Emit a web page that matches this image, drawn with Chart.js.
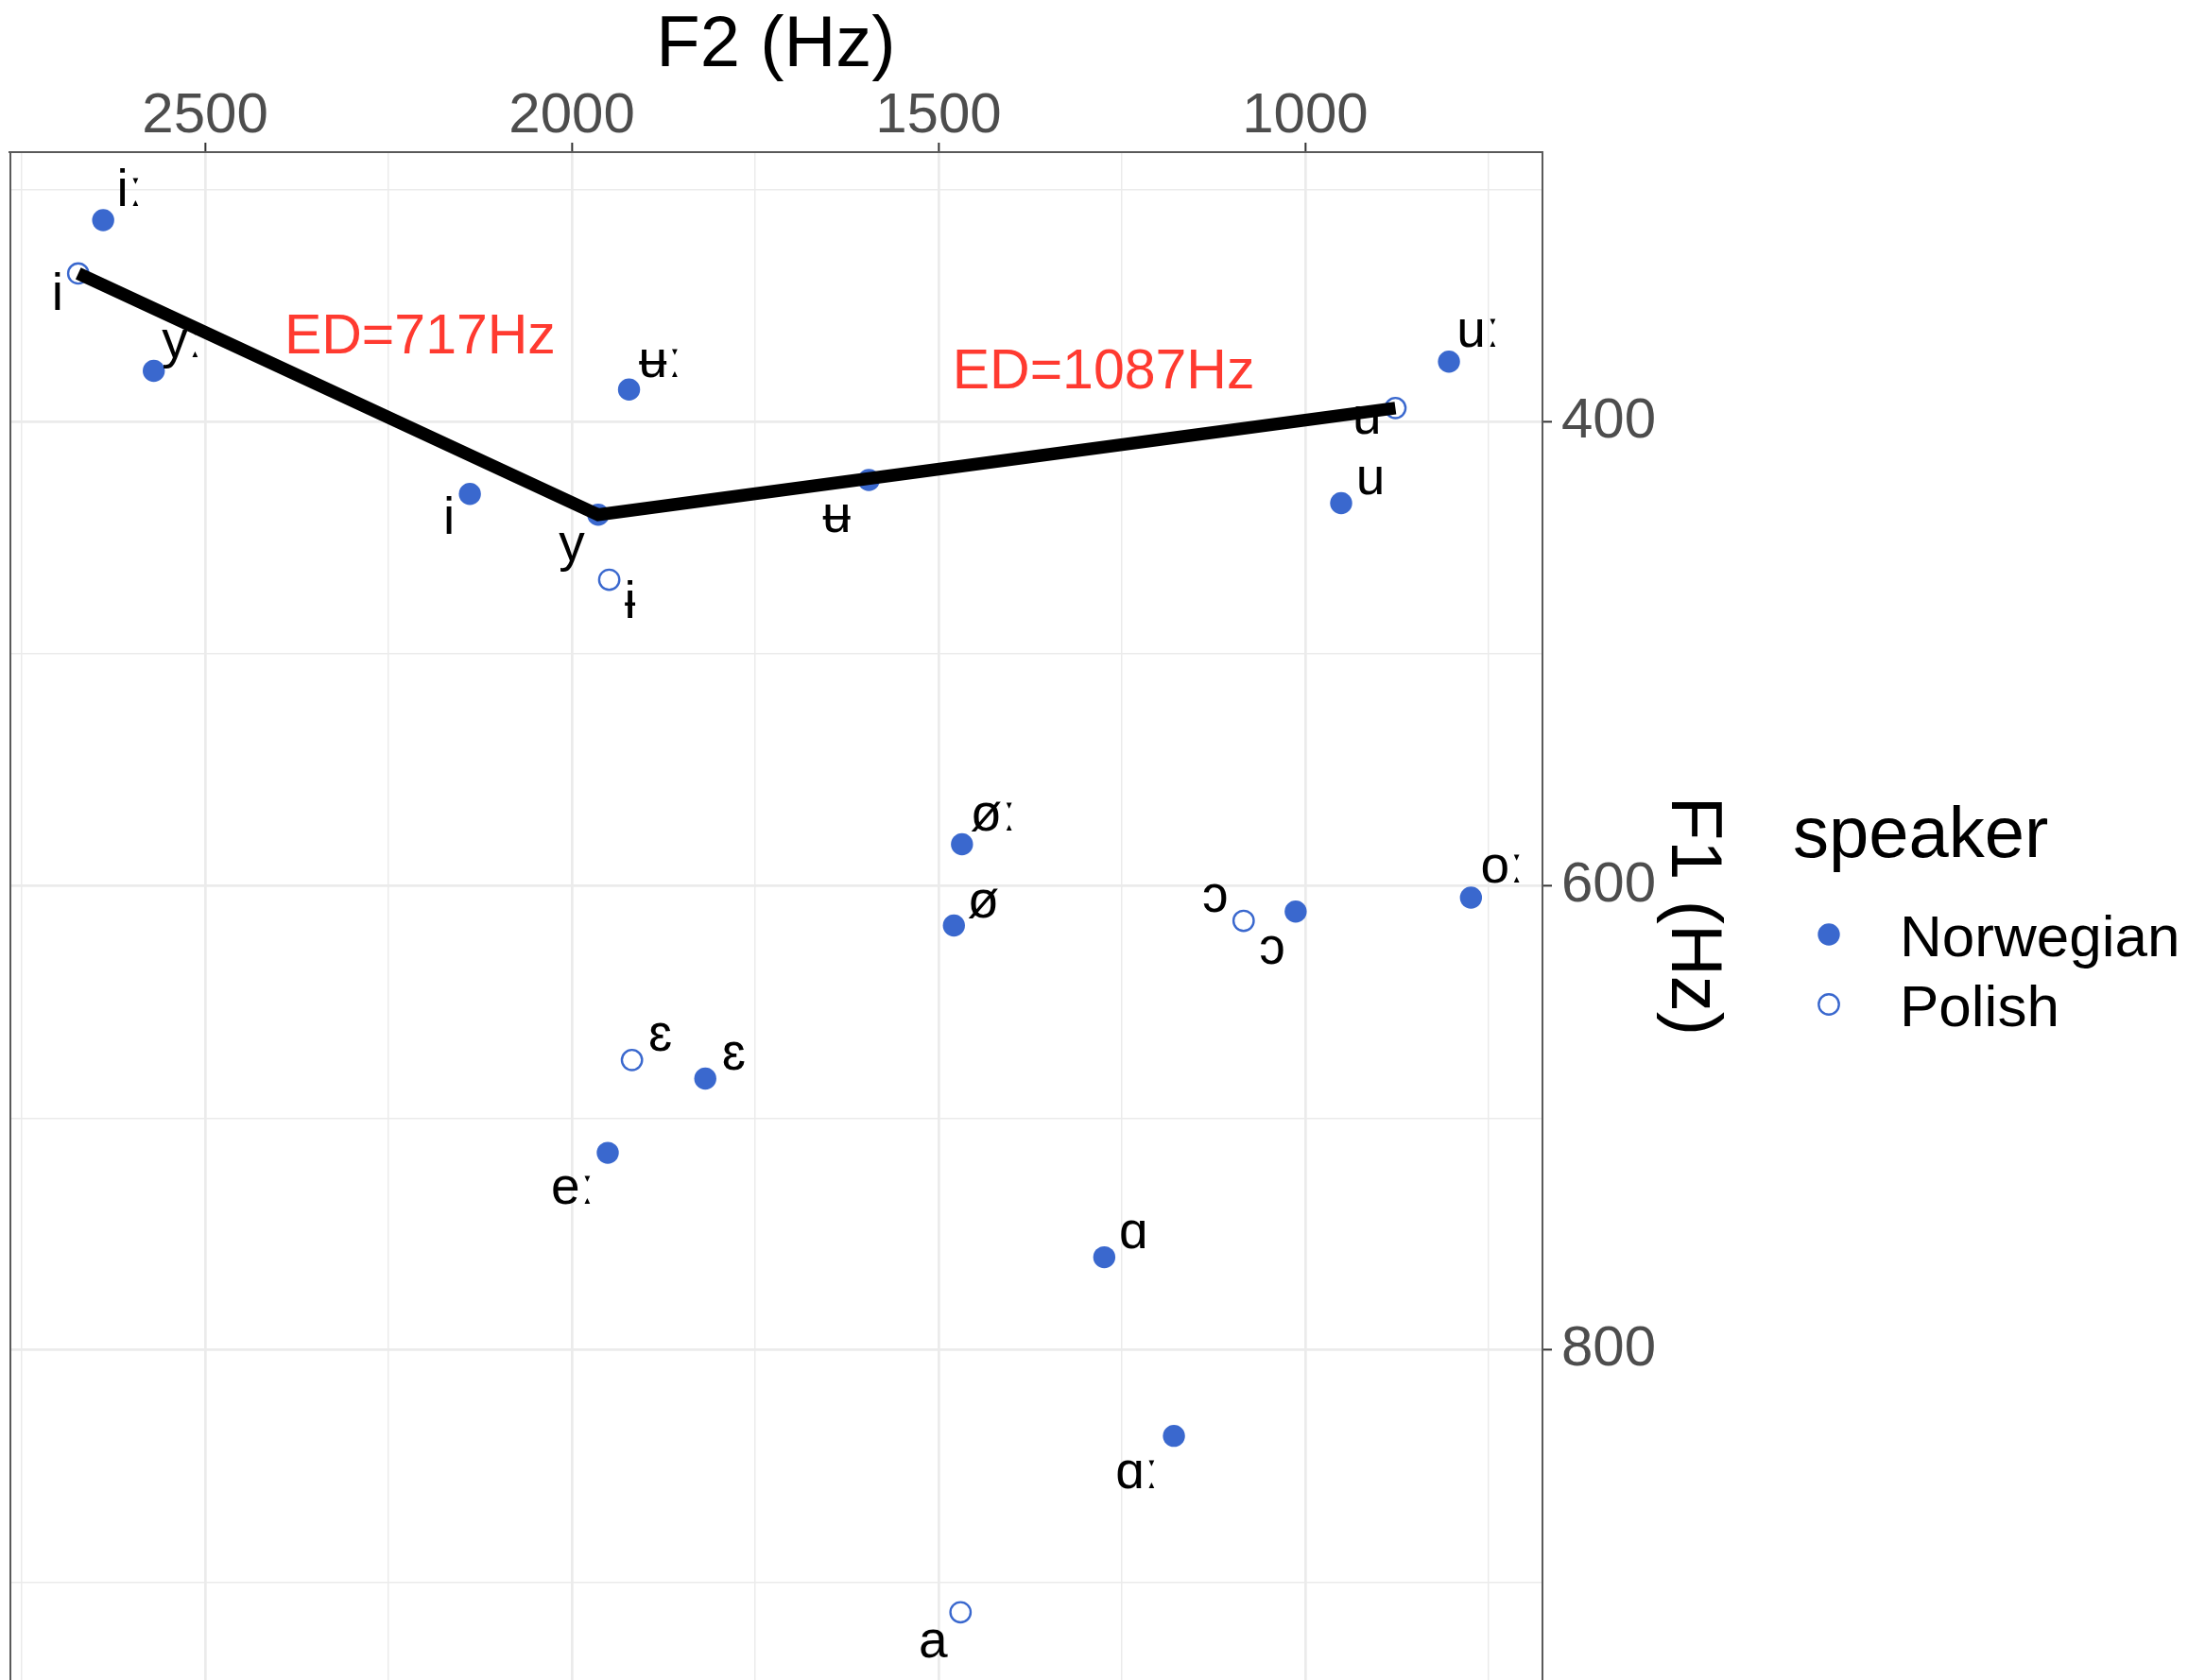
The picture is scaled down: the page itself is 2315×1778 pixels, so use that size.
<!DOCTYPE html>
<html>
<head>
<meta charset="utf-8">
<script src="https://cdn.jsdelivr.net/npm/chart.js@4.4.1/dist/chart.umd.min.js"></script>
<style>
  html, body { margin: 0; padding: 0; background: #fff; overflow: hidden; }
  #wrap { width: 2315px; height: 1778px; }
</style>
</head>
<body>
<div id="wrap"><canvas id="chart" width="2315" height="1778"></canvas></div>
<script>
// ── Data (F2 / F1 in Hz) ────────────────────────────────────────────────────
const noVowels = ["iː", "yː", "ʉː", "i", "y", "ʉ", "uː", "u", "øː", "ø", "oː", "ɔ", "ɛ", "eː", "ɑ", "ɑː"];
const noF2 = [2639, 2570, 1922, 2139, 1964, 1595, 804, 951, 1468, 1479, 774, 1013, 1818, 1951, 1274, 1179];
const noF1 = [313, 378, 386, 431, 440, 425, 374, 435, 582, 617, 605, 611, 683, 715, 760, 837];

const plVowels = ["i", "ɨ", "u", "ɛ", "ɔ", "a"];
const plF2 = [2673, 1949, 877, 1918, 1084, 1470];
const plF1 = [336, 468, 394, 675, 615, 913];

// distance path: Polish i -> Norwegian y -> Polish u
const edText = ["ED=717Hz", "ED=1087Hz"];
const edF2 = [2207, 1275];
const edF1 = [364, 379];

const xTickLabels = [2500, 2000, 1500, 1000];
const yTickLabels = [400, 600, 800];

// ── Label nudges (px, like ggrepel placed them) ─────────────────────────────
const noNudge = [[28,-30],[30,-30],[33,-28],[-22,27],[-28,33],[-34,40],[31,-31],[31,-25],
                 [33,-30],[31,-24],[33,-31],[-25,40],[30,-25],[-37,39],[31,-25],[-39,40]];
const plNudge = [[-22,23],[22,25],[-30,12],[30,-25],[-30,-25],[-29,33]];

const FONT = '"Liberation Sans", "DejaVu Sans", Arial, sans-serif';
const BLUE = "#3A68CE";

const toPts = (xs, ys) => xs.map((x, i) => ({ x, y: ys[i] }));
const pathPts = [
  { x: plF2[0], y: plF1[0] },
  { x: noF2[4], y: noF1[4] },
  { x: plF2[2], y: plF1[2] }
];

const labelPlugin = {
  id: "vowelLabels",
  afterDatasetDraw(chart, args) {
    const ds = chart.data.datasets[args.index];
    if (!ds.vowels) return;
    const ctx = chart.ctx;
    ctx.save();
    ctx.font = "55px " + FONT;
    ctx.fillStyle = "#000";
    ctx.textAlign = "center";
    ctx.textBaseline = "middle";
    args.meta.data.forEach((pt, i) => {
      const n = ds.nudge[i];
      ctx.fillText(ds.vowels[i], pt.x + n[0], pt.y + n[1]);
    });
    ctx.restore();
  },
  afterDraw(chart) {
    const ctx = chart.ctx, a = chart.chartArea;
    const xs = chart.scales.x, ys = chart.scales.y;
    ctx.save();
    // left panel border
    ctx.strokeStyle = "#5A5A5A";
    ctx.lineWidth = 2;
    ctx.beginPath();
    ctx.moveTo(a.left + 1, a.top);
    ctx.lineTo(a.left + 1, a.bottom);
    ctx.stroke();

    // ED annotations
    ctx.font = "59px " + FONT;
    ctx.fillStyle = "#FF3A30";
    ctx.textAlign = "center";
    ctx.textBaseline = "middle";
    edText.forEach((t, i) => ctx.fillText(t, xs.getPixelForValue(edF2[i]), ys.getPixelForValue(edF1[i])));

    // legend
    ctx.fillStyle = "#000";
    ctx.textAlign = "left";
    ctx.textBaseline = "alphabetic";
    ctx.font = "76px " + FONT;
    ctx.fillText("speaker", 1897, 907);
    ctx.font = "62px " + FONT;
    ctx.fillText("Norwegian", 2010, 1012);
    ctx.fillText("Polish", 2010, 1086);
    ctx.fillStyle = BLUE;
    ctx.beginPath(); ctx.arc(1935, 989, 11.7, 0, Math.PI * 2); ctx.fill();
    ctx.strokeStyle = BLUE; ctx.lineWidth = 2.4;
    ctx.beginPath(); ctx.arc(1935, 1063, 10.7, 0, Math.PI * 2); ctx.stroke();
    ctx.restore();
  }
};

const isMajorX = c => c.tick && xTickLabels.includes(c.tick.value);
const isMajorY = c => c.tick && yTickLabels.includes(c.tick.value);

new Chart(document.getElementById("chart"), {
  type: "scatter",
  data: {
    datasets: [
      { label: "Norwegian", data: toPts(noF2, noF1), vowels: noVowels, nudge: noNudge,
        pointRadius: 11.7, pointBackgroundColor: BLUE, pointBorderWidth: 0, order: 2 },
      { label: "Polish", data: toPts(plF2, plF1), vowels: plVowels, nudge: plNudge,
        pointRadius: 10.7, pointBackgroundColor: "rgba(0,0,0,0)", pointBorderColor: BLUE, pointBorderWidth: 2.4, order: 1 },
      { type: "line", label: "ED", data: pathPts, borderColor: "#000", borderWidth: 13.5,
        pointRadius: 0, tension: 0, fill: false, order: 0 }
    ]
  },
  options: {
    responsive: false, animation: false, devicePixelRatio: 1, events: [],
    layout: { autoPadding: false, padding: { left: 10, top: 0, right: 479, bottom: 0 } },
    plugins: { legend: { display: false }, tooltip: { enabled: false } },
    scales: {
      x: {
        type: "linear", position: "top", reverse: true, min: 676.5, max: 2766.8,
        afterFit: s => { s.height = 161; s.paddingLeft = 0; s.paddingRight = 0; },
        ticks: {
          stepSize: 250, includeBounds: false, autoSkip: false, maxRotation: 0, padding: -2,
          color: "#4D4D4D", font: { size: 60, family: FONT, lineHeight: 1 },
          callback: v => xTickLabels.includes(v) ? String(v) : ""
        },
        grid: {
          color: "#EBEBEB", lineWidth: c => isMajorX(c) ? 2.7 : 1.5, tickLength: 10,
          tickColor: c => isMajorX(c) ? "#333" : "rgba(0,0,0,0)", tickWidth: 2
        },
        border: { display: true, color: "#5A5A5A", width: 2 },
        title: { display: true, text: "F2 (Hz)", color: "#000", font: { size: 76, family: FONT }, padding: { top: 3, bottom: 0 } }
      },
      y: {
        type: "linear", position: "right", reverse: true, min: 283.7, max: 942.2,
        afterFit: s => { s.width = 204; s.paddingTop = 0; s.paddingBottom = 0; },
        ticks: {
          stepSize: 100, includeBounds: false, autoSkip: false, padding: 10,
          color: "#4D4D4D", font: { size: 60, family: FONT },
          callback: v => yTickLabels.includes(v) ? String(v) : ""
        },
        grid: {
          color: "#EBEBEB", lineWidth: c => isMajorY(c) ? 2.7 : 1.5, tickLength: 10,
          tickColor: c => isMajorY(c) ? "#333" : "rgba(0,0,0,0)", tickWidth: 2
        },
        border: { display: true, color: "#5A5A5A", width: 2 },
        title: { display: true, text: "F1 (Hz)", color: "#000", font: { size: 76, family: FONT }, padding: { top: 0, bottom: 0 } }
      }
    }
  },
  plugins: [labelPlugin]
});
</script>
</body>
</html>
